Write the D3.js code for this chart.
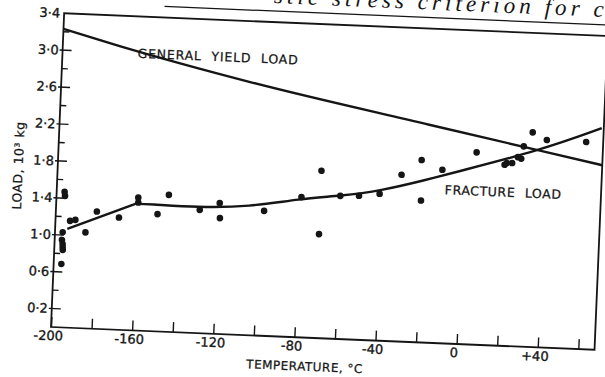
<!DOCTYPE html>
<html>
<head>
<meta charset="utf-8">
<script src="https://cdn.jsdelivr.net/npm/d3@7"></script>
<style>
  body { margin: 0; background: #fff; }
  svg { display: block; }
</style>
</head>
<body>
<svg id="chart" width="605" height="377"></svg>
<script>
// axis ticks and labels
const tempTicks = [-200, -180, -160, -140, -120, -100, -80, -60, -40, -20, 0, 20, 40, 60];
const tempLabelValues = [-200, -160, -120, -80, -40, 0, 40];
const tempLabelText = ["-200", "-160", "-120", "-80", "-40", "0", "+40"];
const loadMajor = [0.2, 0.6, 1.0, 1.4, 1.8, 2.2, 2.6, 3.0, 3.4];
const loadLabelText = ["0·2", "0·6", "1·0", "1·4", "1·8", "2·2", "2·6", "3·0", "3·4"];
const loadMinor = [0.4, 0.8, 1.2, 1.6, 2.0, 2.4, 2.8, 3.2];

// general yield load curve
const yieldTemp = [-200, -172, -107, -18, 37, 68];
const yieldLoad = [3.23, 3.07, 2.74, 2.36, 2.13, 2.0];

// fracture load curve: straight up to the kink at -161, smooth after it
const fractureTemp = [-194, -161, -155, -130, -105, -80, -60, -41, -17, -7, 37, 67];
const fractureLoad = [1.07, 1.37, 1.375, 1.36, 1.39, 1.5, 1.55, 1.62, 1.77, 1.84, 2.13, 2.40];

// measured fracture loads
const pointTemp = [-196.1, -195.8, -196.2, -196.4, -196.0, -195.9, -195.8, -196.2, -192.8, -190.2,
  -185.0, -179.8, -168.8, -159.7, -159.6, -149.9, -144.7, -129.2, -119.5, -119.1,
  -97.5, -79.4, -70.1, -70.0, -60.3, -51.1, -41.0, -30.6, -21.0, -20.5,
  -10.6, 5.9, 19.9, 21.0, 23.6, 26.3, 28.0, 29.0, 33.1, 40.2, 59.6];
const pointLoad = [1.469, 1.425, 1.031, 0.947, 0.904, 0.869, 0.839, 0.687, 1.157, 1.170,
  1.039, 1.270, 1.215, 1.440, 1.386, 1.269, 1.483, 1.335, 1.417, 1.254,
  1.353, 1.519, 1.813, 1.126, 1.550, 1.559, 1.590, 1.806, 1.974, 1.536,
  1.878, 2.082, 1.961, 1.980, 1.983, 2.050, 2.034, 2.168, 2.324, 2.248, 2.244];

const W = 544, H = 314;
const ink = "#151515";
const font = "'DejaVu Sans', sans-serif";

const svg = d3.select("#chart");
svg.append("rect").attr("width", 605).attr("height", 377).attr("fill", "#fff");

// the scanned page is tilted a little
const g = svg.append("g")
  .attr("transform", "translate(51,327) rotate(2.4) translate(0," + (-H) + ")");

const x = d3.scaleLinear().domain([-200, 68]).range([0, W]);
const y = d3.scaleLinear().domain([0, 3.4]).range([H, 0]);

// page text above the figure (cut by the top edge, as in the scan)
g.append("line")
  .attr("x1", 100).attr("x2", 580)
  .attr("y1", -11).attr("y2", -11)
  .attr("stroke", ink).attr("stroke-width", 1.2);
g.append("text")
  .attr("x", 209).attr("y", -19)
  .attr("textLength", 330).attr("lengthAdjust", "spacing")
  .attr("font-family", "'Liberation Serif', serif")
  .attr("font-style", "italic")
  .attr("font-size", 23)
  .attr("fill", ink)
  .text("stic stress criterion for c");

// frame
g.append("rect")
  .attr("width", W).attr("height", H)
  .attr("fill", "none").attr("stroke", ink).attr("stroke-width", 1.8);

// bottom axis, ticks point inwards
const xAxis = g.append("g")
  .attr("transform", "translate(0," + H + ")")
  .call(d3.axisBottom(x).tickValues(tempTicks).tickSize(-10).tickPadding(4)
    .tickFormat(d => {
      const i = tempLabelValues.indexOf(d);
      return i < 0 ? "" : tempLabelText[i];
    }));
xAxis.select(".domain").remove();
xAxis.selectAll("line").attr("stroke", ink).attr("stroke-width", 1.4);
xAxis.selectAll("text")
  .attr("font-family", font).attr("font-size", 13).attr("fill", ink)
  .attr("stroke", ink).attr("stroke-width", 0.35)
  .attr("dx", -3);

// left axis, drawn by hand so the labelled ticks cross the line
g.selectAll(".minorTick")
  .data(loadMinor)
  .enter().append("line")
  .attr("x1", 0).attr("x2", 6)
  .attr("y1", d => y(d)).attr("y2", d => y(d))
  .attr("stroke", ink).attr("stroke-width", 1.4);
g.selectAll(".majorTick")
  .data(loadMajor.filter(d => d < 3.4))
  .enter().append("line")
  .attr("x1", -3).attr("x2", 9)
  .attr("y1", d => y(d)).attr("y2", d => y(d))
  .attr("stroke", ink).attr("stroke-width", 1.4);
g.selectAll(".loadLabel")
  .data(loadMajor)
  .enter().append("text")
  .attr("x", -4)
  .attr("y", d => y(d))
  .attr("dy", "0.35em")
  .attr("text-anchor", "end")
  .attr("font-family", font).attr("font-size", 13).attr("fill", ink)
  .attr("stroke", ink).attr("stroke-width", 0.35)
  .text((d, i) => loadLabelText[i]);

// axis titles
g.append("text")
  .attr("x", 255).attr("y", H + 33)
  .attr("text-anchor", "middle")
  .attr("font-family", font).attr("font-size", 12).attr("fill", ink)
  .attr("stroke", ink).attr("stroke-width", 0.25)
  .attr("letter-spacing", 0.5)
  .text("TEMPERATURE,  °C");
g.append("text")
  .attr("transform", "translate(-35," + (H - 160) + ") rotate(-90)")
  .attr("text-anchor", "middle")
  .attr("font-family", font).attr("font-size", 12.5).attr("fill", ink)
  .attr("stroke", ink).attr("stroke-width", 0.25)
  .attr("letter-spacing", 0.5)
  .text("LOAD,  10³  kg");

// curves
const line = d3.line()
  .x(d => x(d[0]))
  .y(d => y(d[1]))
  .curve(d3.curveMonotoneX);
const straight = d3.line()
  .x(d => x(d[0]))
  .y(d => y(d[1]));
const smooth = d3.line()
  .x(d => x(d[0]))
  .y(d => y(d[1]))
  .curve(d3.curveBasis);

g.append("path")
  .datum(d3.zip(yieldTemp, yieldLoad))
  .attr("d", line)
  .attr("fill", "none").attr("stroke", ink).attr("stroke-width", 2.4);

const fracture = d3.zip(fractureTemp, fractureLoad);
g.append("path")
  .datum(fracture.slice(0, 2))
  .attr("d", straight)
  .attr("fill", "none").attr("stroke", ink).attr("stroke-width", 2.4);
g.append("path")
  .datum(fracture.slice(1))
  .attr("d", smooth)
  .attr("fill", "none").attr("stroke", ink).attr("stroke-width", 2.4);

// points
g.selectAll(".dot")
  .data(d3.zip(pointTemp, pointLoad))
  .enter().append("circle")
  .attr("cx", d => x(d[0]))
  .attr("cy", d => y(d[1]))
  .attr("r", 3.3)
  .attr("fill", ink);

// curve labels
g.append("text")
  .attr("x", x(-163)).attr("y", y(3.0))
  .attr("dy", "0.35em")
  .attr("font-family", font).attr("font-size", 12.5).attr("fill", ink)
  .attr("stroke", ink).attr("stroke-width", 0.25)
  .attr("letter-spacing", 0.8).attr("word-spacing", 5)
  .text("GENERAL YIELD LOAD");
g.append("text")
  .attr("x", x(-9)).attr("y", y(1.663))
  .attr("dy", "0.35em")
  .attr("font-family", font).attr("font-size", 12.5).attr("fill", ink)
  .attr("stroke", ink).attr("stroke-width", 0.25)
  .attr("letter-spacing", 0.6).attr("word-spacing", 5)
  .text("FRACTURE LOAD");
</script>
</body>
</html>
